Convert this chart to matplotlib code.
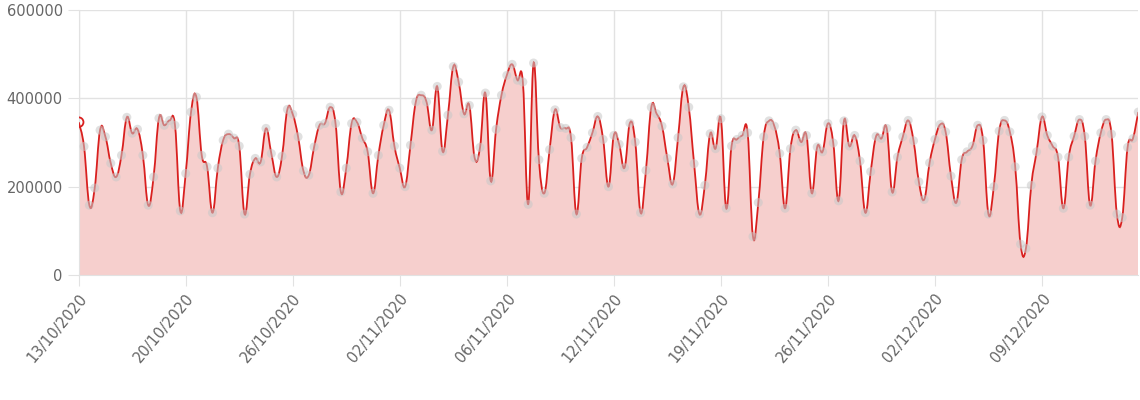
"""Daily series with filled area, Chart.js-like look."""

import matplotlib

matplotlib.use("Agg")
import matplotlib.pyplot as plt
from matplotlib.path import Path
from matplotlib.patches import PathPatch
from matplotlib.ticker import FixedLocator

VALUES = [
    346, 291, 158, 197, 328, 313, 253, 222, 271, 357, 321, 330, 271, 158, 222, 355, 339, 350, 339, 145,
    230, 369, 403, 271, 245, 141, 242, 305, 319, 310, 292, 138, 228, 264, 256, 332, 275, 222, 269, 375,
    364, 313, 236, 226, 290, 339, 343, 380, 343, 188, 242, 343, 346, 310, 279, 185, 271, 339, 373, 292,
    242, 200, 294, 392, 407, 392, 328, 427, 280, 362, 472, 437, 365, 384, 265, 289, 412, 213, 330, 407,
    452, 477, 441, 437, 160, 480, 261, 185, 284, 374, 334, 332, 311, 138, 264, 289, 322, 359, 307, 200,
    316, 296, 243, 344, 301, 141, 237, 380, 365, 337, 264, 206, 311, 426, 380, 252, 138, 203, 320, 286,
    354, 151, 292, 307, 316, 322, 87, 164, 313, 349, 337, 275, 151, 286, 328, 301, 316, 185, 290, 279,
    343, 299, 168, 349, 292, 316, 258, 141, 234, 314, 309, 332, 188, 267, 313, 350, 304, 211, 171, 254,
    307, 341, 324, 224, 164, 261, 279, 292, 339, 305, 138, 200, 326, 350, 324, 245, 70, 60, 203, 279,
    358, 316, 292, 267, 151, 267, 314, 352, 314, 158, 258, 322, 352, 319, 138, 130, 289, 309, 369,
]
VALUES = [v * 1000 for v in VALUES]

TICK_LABELS = [
    "13/10/2020", "20/10/2020", "26/10/2020", "02/11/2020", "06/11/2020",
    "12/11/2020", "19/11/2020", "26/11/2020", "02/12/2020", "09/12/2020",
]
TICK_EVERY = 20
Y_TICKS = [0, 200000, 400000, 600000]

LINE = "#d9201f"
FILL = "#f6cfcd"


def smooth_path(xs, ys, tension=0.4):
    # cubic bezier through every point (like chart.js line tension)
    verts = [(xs[0], ys[0])]
    codes = [Path.MOVETO]
    n = len(xs)
    for i in range(n - 1):
        x0, y0 = xs[max(i - 1, 0)], ys[max(i - 1, 0)]
        x1, y1 = xs[i], ys[i]
        x2, y2 = xs[i + 1], ys[i + 1]
        x3, y3 = xs[min(i + 2, n - 1)], ys[min(i + 2, n - 1)]
        c1 = (x1 + (x2 - x0) * tension / 2, y1 + (y2 - y0) * tension / 2)
        c2 = (x2 - (x3 - x1) * tension / 2, y2 - (y3 - y1) * tension / 2)
        verts += [c1, c2, (x2, y2)]
        codes += [Path.CURVE4] * 3
    return verts, codes


fig = plt.figure(figsize=(11.4, 4.0), dpi=100)
ax = fig.add_axes([0.069, 0.3125, 0.9295, 0.6625])

xs = list(range(len(VALUES)))
verts, codes = smooth_path(xs, VALUES)

fill_verts = verts + [(xs[-1], 0), (xs[0], 0), (xs[0], VALUES[0])]
fill_codes = codes + [Path.LINETO, Path.LINETO, Path.CLOSEPOLY]
ax.add_patch(PathPatch(Path(fill_verts, fill_codes), facecolor=FILL, edgecolor="none", zorder=1))
ax.add_patch(PathPatch(Path(verts, codes), facecolor="none", edgecolor=LINE, linewidth=1.3, zorder=3))

ax.scatter(xs[1:], VALUES[1:], s=42, color="#c8c8c8", alpha=0.55, edgecolors="none", zorder=4)
ax.scatter(xs[:1], VALUES[:1], s=48, facecolor="none", edgecolors=LINE, linewidths=1.3, zorder=5)

ax.set_xlim(0, len(VALUES) - 1)
ax.set_ylim(0, 600000)
ax.yaxis.set_major_locator(FixedLocator(Y_TICKS))
ax.set_yticklabels([str(v) for v in Y_TICKS])
tick_pos = list(range(0, len(VALUES), TICK_EVERY))[: len(TICK_LABELS)]
ax.set_xticks(tick_pos)
ax.set_xticklabels(TICK_LABELS, rotation=50, ha="right", rotation_mode="anchor")

ax.grid(True, color="#e2e2e2", linewidth=1, zorder=0)
ax.set_axisbelow(True)
for side in ("top", "right"):
    ax.spines[side].set_visible(False)
for side in ("left", "bottom"):
    ax.spines[side].set_color("#e2e2e2")
ax.tick_params(axis="both", colors="#e2e2e2", labelcolor="#666666", labelsize=10.5, length=8)

fig.savefig("out.png", dpi=100)
